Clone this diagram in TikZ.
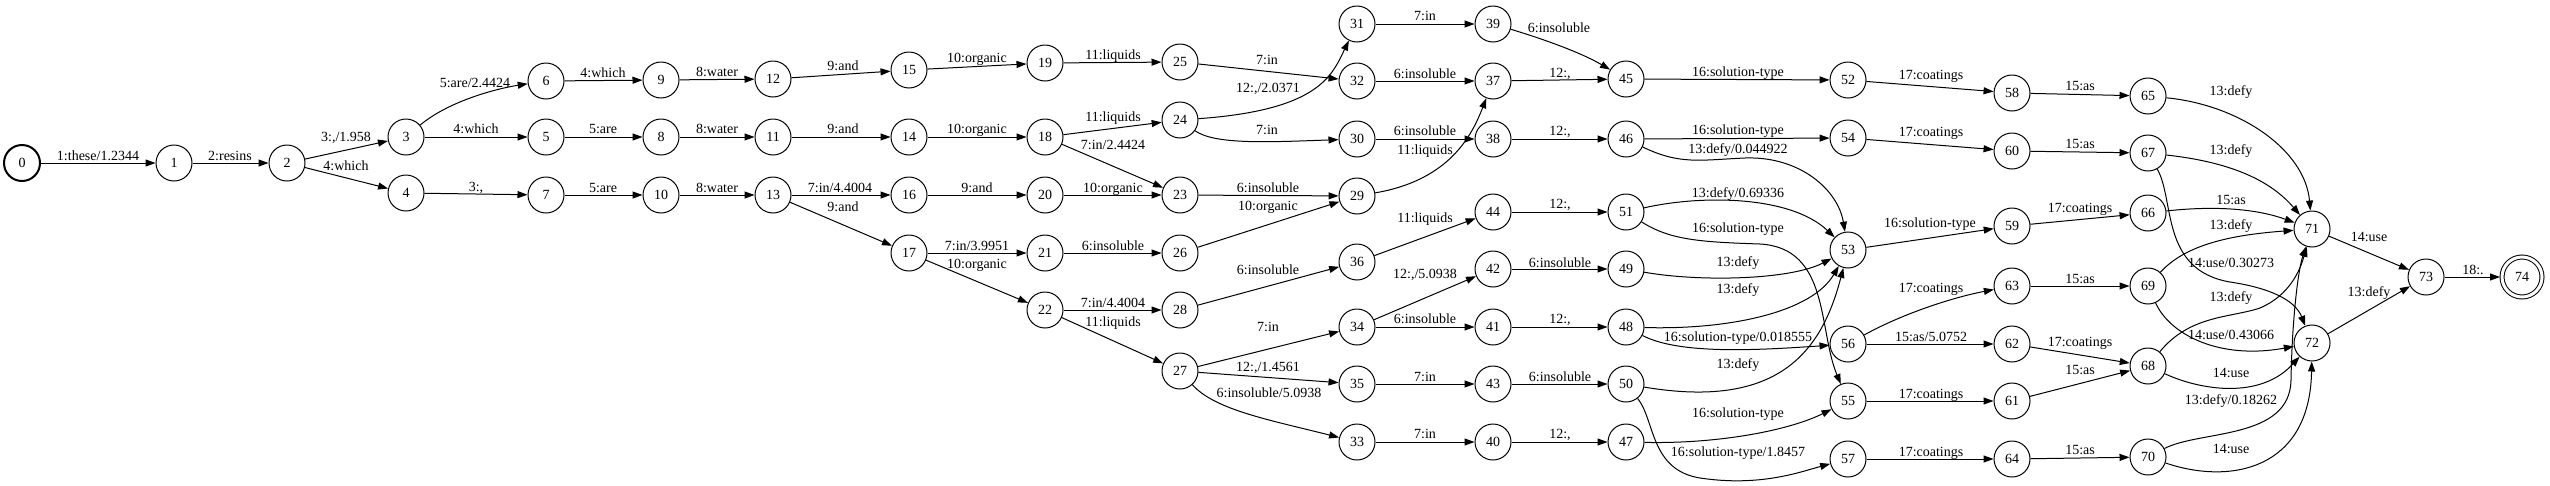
\documentclass[tikz,border=0pt]{standalone}
\usepackage{fontspec}
\setmainfont{Liberation Serif}
\usetikzlibrary{arrows.meta}
\tikzset{
  st/.style={circle,draw,minimum size=36pt,inner sep=0pt,line width=1pt,font=\fontsize{14}{16}\selectfont},
  lbl/.style={inner sep=0pt,text height=9.5pt,text depth=0pt,font=\fontsize{14}{16}\selectfont},
  arr/.style={-{Triangle[length=10pt,width=7pt]},line width=1pt},
}
\newcommand\E[4]{\draw[arr] (n#1) -- (n#2); \node[lbl] (l#1to#2) at (#3) {#4};}
\newcommand\C[5]{\draw[arr] (n#1) #3 (n#2); \node[lbl] (l#1to#2) at (#4) {#5};}
\begin{document}
\begin{tikzpicture}[x=1pt,y=-1pt]
\fill[white] (0,0) rectangle (2550,485);
\useasboundingbox (0,0) rectangle (2550,485);
\node[st,line width=2pt] (n0) at (22,163) {0};
\foreach \n/\x/\y in {1/174/163,2/287/163,3/406/137,4/406/193,5/546/137,6/546/81,7/546/195,
  8/661/137,9/661/80,10/661/195,11/773/137,12/773/79,13/773/195,14/909/137,15/909/70,16/909/195,17/909/253,
  18/1045/137,19/1045/63,20/1045/195,21/1045/253,22/1045/310,23/1180/195,24/1180/120,25/1180/62,26/1180/253,
  27/1180/371,28/1180/310,29/1357/196,30/1357/139,31/1357/24,32/1357/81,33/1357/442,34/1357/327,35/1357/384,
  36/1357/262,37/1493/81,38/1493/139,39/1493/24,40/1493/442,41/1493/327,42/1493/269,43/1493/384,44/1493/212,
  45/1626/79,46/1626/139,47/1626/442,48/1626/327,49/1626/269,50/1626/384,51/1626/212,52/1848/80,53/1848/250,
  54/1848/138,55/1848/401,56/1848/344,57/1848/459,58/2012/93,59/2012/226,60/2012/151,61/2012/401,62/2012/344,
  63/2012/286,64/2012/459,65/2148/96,66/2148/213,67/2148/153,68/2148/366,69/2148/286,70/2148/457,71/2312/229,
  72/2312/343,73/2426/277}
  {\node[st] (n\n) at (\x,\y) {\n};}
\node[st,minimum size=40pt,double,double distance=3pt,outer sep=2pt] (n74) at (2522,277) {74};
% straight edges
\E{0}{1}{98,156}{1:these/1.2344}
\E{1}{2}{230,156}{2:resins}
\E{2}{3}{346,137}{3:,/1.958}
\E{2}{4}{346,166}{4:which}
\C{3}{6}{.. controls (450,100) and (500,88) ..}{475,83}{5:are/2.4424}
\E{3}{5}{476,129}{4:which}
\E{4}{7}{476,187}{3:,}
\E{6}{9}{603,73}{4:which}
\E{5}{8}{603,129}{5:are}
\E{7}{10}{603,188}{5:are}
\E{9}{12}{717,72}{8:water}
\E{8}{11}{717,129}{8:water}
\E{10}{13}{717,188}{8:water}
\E{12}{15}{843,66}{9:and}
\E{11}{14}{843,129}{9:and}
\E{13}{16}{840,188}{7:in/4.4004}
\E{13}{17}{843,207}{9:and}
\E{15}{19}{977,58}{10:organic}
\E{14}{18}{977,129}{10:organic}
\E{16}{20}{977,188}{9:and}
\E{17}{21}{977,246}{7:in/3.9951}
\E{17}{22}{977,264}{10:organic}
\E{19}{25}{1113,55}{11:liquids}
\E{18}{24}{1113,117}{11:liquids}
\E{18}{23}{1113,145}{7:in/2.4424}
\E{20}{23}{1113,188}{10:organic}
\E{21}{26}{1113,246}{6:insoluble}
\E{22}{28}{1113,303}{7:in/4.4004}
\E{22}{27}{1113,322}{11:liquids}
\E{25}{32}{1267,60}{7:in}
\C{24}{31}{.. controls (1320,110) and (1332,75) ..}{1268,88}{12:,/2.0371}
\C{24}{30}{.. controls (1215,145) and (1270,142) ..}{1267,130}{7:in}
\E{23}{29}{1268,188}{6:insoluble}
\E{26}{29}{1268,206}{10:organic}
\E{28}{36}{1268,270}{6:insoluble}
\E{27}{34}{1268,327}{7:in}
\E{27}{35}{1268,367}{12:,/1.4561}
\C{27}{33}{.. controls (1215,410) and (1270,420) ..}{1269,393}{6:insoluble/5.0938}
\E{31}{39}{1425,16}{7:in}
\E{32}{37}{1425,74}{6:insoluble}
\E{30}{38}{1425,131}{6:insoluble}
\C{29}{37}{.. controls (1450,180) and (1472,135) ..}{1425,150}{11:liquids}
\E{36}{44}{1425,218}{11:liquids}
\E{34}{42}{1425,274}{12:,/5.0938}
\E{34}{41}{1425,319}{6:insoluble}
\E{35}{43}{1425,377}{7:in}
\E{33}{40}{1425,434}{7:in}
\C{39}{45}{.. controls (1540,38) and (1580,52) ..}{1559,28}{6:insoluble}
\E{37}{45}{1560,73}{12:,}
\E{38}{46}{1560,131}{12:,}
\E{44}{51}{1560,204}{12:,}
\E{42}{49}{1560,263}{6:insoluble}
\E{41}{48}{1560,319}{12:,}
\E{43}{50}{1560,377}{6:insoluble}
\E{40}{47}{1560,434}{12:,}
\E{45}{52}{1738,72}{16:solution-type}
\E{46}{54}{1738,130}{16:solution-type}
\C{46}{53}{.. controls (1680,165) and (1700,160) .. (1745,158) .. controls (1800,156) and (1838,190) ..}{1738,149}{13:defy/0.044922}
\C{51}{53}{.. controls (1700,195) and (1790,195) ..}{1738,193}{13:defy/0.69336}
\C{51}{55}{.. controls (1670,240) and (1700,242) .. (1760,244) .. controls (1830,248) and (1818,330) ..}{1738,228}{16:solution-type}
\C{49}{53}{.. controls (1700,282) and (1790,280) ..}{1738,262}{13:defy}
\C{48}{53}{.. controls (1730,330) and (1812,312) ..}{1738,289}{13:defy}
\C{48}{56}{.. controls (1680,355) and (1760,350) ..}{1738,337}{16:solution-type/0.018555}
\C{50}{53}{.. controls (1780,410) and (1822,350) ..}{1738,364}{13:defy}
\C{47}{55}{.. controls (1720,444) and (1790,430) ..}{1738,413}{16:solution-type}
\C{50}{57}{.. controls (1655,420) and (1650,470) .. (1700,478) .. controls (1760,487) and (1800,472) ..}{1738,452}{16:solution-type/1.8457}
\E{52}{58}{1931,75}{17:coatings}
\E{54}{60}{1931,132}{17:coatings}
\E{53}{59}{1930,223}{16:solution-type}
\C{56}{63}{.. controls (1900,315) and (1950,298) ..}{1931,288}{17:coatings}
\E{56}{62}{1931,337}{15:as/5.0752}
\E{55}{61}{1931,394}{17:coatings}
\E{57}{64}{1931,452}{17:coatings}
\E{58}{65}{2080,86}{15:as}
\E{60}{67}{2080,144}{15:as}
\E{59}{66}{2080,208}{17:coatings}
\E{63}{69}{2080,279}{15:as}
\E{62}{68}{2080,342}{17:coatings}
\E{61}{68}{2080,370}{15:as}
\E{64}{70}{2080,450}{15:as}
\C{65}{71}{.. controls (2240,105) and (2305,150) ..}{2231,91}{13:defy}
\C{67}{71}{.. controls (2230,162) and (2270,180) ..}{2231,150}{13:defy}
\C{66}{71}{.. controls (2220,205) and (2260,210) ..}{2231,200}{15:as}
\C{69}{71}{.. controls (2185,245) and (2230,235) ..}{2231,225}{13:defy}
\C{67}{72}{.. controls (2175,200) and (2160,270) .. (2230,282) .. controls (2270,288) and (2295,300) ..}{2231,263}{14:use/0.30273}
\C{68}{71}{.. controls (2190,315) and (2230,318) .. (2260,308) .. controls (2290,295) and (2300,270) ..}{2231,297}{13:defy}
\C{69}{72}{.. controls (2170,335) and (2220,360) ..}{2231,335}{14:use/0.43066}
\C{68}{72}{.. controls (2200,390) and (2260,400) ..}{2231,373}{14:use}
\C{70}{71}{.. controls (2200,430) and (2290,440) .. (2291,380) .. controls (2292,320) and (2298,270) ..}{2231,400}{13:defy/0.18262}
\C{70}{72}{.. controls (2230,485) and (2310,470) ..}{2231,449}{14:use}
\E{71}{73}{2369,237}{14:use}
\E{72}{73}{2369,292}{13:defy}
\E{73}{74}{2473,270}{18:.}
\end{tikzpicture}
\end{document}
